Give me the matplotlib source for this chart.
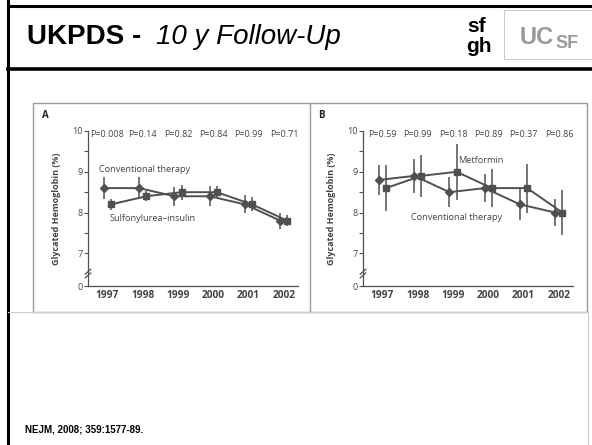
import numpy as np
import matplotlib.pyplot as plt
from matplotlib.lines import Line2D
from matplotlib.patches import Rectangle

# values
years = [1997, 1998, 1999, 2000, 2001, 2002]
a_conv = [8.6, 8.6, 8.4, 8.4, 8.2, 7.8]
a_conv_err = [0.27, 0.27, 0.23, 0.25, 0.22, 0.2]
a_su = [8.2, 8.4, 8.5, 8.5, 8.2, 7.8]
a_su_err = [0.13, 0.12, 0.18, 0.14, 0.17, 0.13]
a_pvals = ["P=0.008", "P=0.14", "P=0.82", "P=0.84", "P=0.99", "P=0.71"]

b_conv = [8.8, 8.9, 8.5, 8.6, 8.2, 8.0]
b_conv_err = [0.36, 0.42, 0.36, 0.34, 0.38, 0.33]
b_met = [8.6, 8.9, 9.0, 8.6, 8.6, 8.0]
b_met_err = [0.56, 0.52, 0.68, 0.47, 0.6, 0.55]
b_pvals = ["P=0.59", "P=0.99", "P=0.18", "P=0.89", "P=0.37", "P=0.86"]

ytick_vals = [7, 8, 9, 10]
zero_pos = 6.2  # where "0" sits on the broken axis

W, H = 592, 445
fig = plt.figure(figsize=(W / 100, H / 100), dpi=100)
fig.patch.set_facecolor('white')

# slide background layer in pixel coords
bg = fig.add_axes([0, 0, 1, 1])
bg.set_xlim(0, W)
bg.set_ylim(H, 0)
bg.axis('off')

def hline(y, x0, x1, lw, c):
    bg.add_line(Line2D([x0, x1], [y, y], lw=lw, color=c))

def vline(x, y0, y1, lw, c):
    bg.add_line(Line2D([x, x], [y0, y1], lw=lw, color=c))

vline(8, 0, H, 2.2, 'black')
hline(6, 8, W, 2.2, 'black')
hline(68.5, 8, W, 2.6, 'black')

bg.text(27, 37, "UKPDS - ", fontsize=20, fontweight='bold', family='Liberation Sans', va='center')
bg.text(156, 37, "10 y Follow-Up", fontsize=20, fontstyle='italic', family='Liberation Sans', va='center')

# logos
bg.text(467, 27, "sf", fontsize=15, fontweight='bold', family='Liberation Sans', va='center')
bg.text(466, 47, "gh", fontsize=15, fontweight='bold', family='Liberation Sans', va='center')
bg.add_patch(Rectangle((504, 10), 90, 49, fill=False, ec='#cccccc', lw=0.8))
bg.text(520, 37, "UC", fontsize=17, fontweight='bold', family='Liberation Sans', color='#999999', va='center')
bg.text(555, 43, "SF", fontsize=13, fontweight='bold', family='Liberation Sans', color='#999999', va='center')

# figure frame
bg.add_patch(Rectangle((33, 103), 554, 209, fill=False, ec='#999999', lw=1.0))
vline(310, 103, 312, 1.0, '#999999')
hline(312, 8, 588, 0.8, '#cccccc')
vline(588, 312, H, 0.8, '#cccccc')

bg.text(25, 430, "NEJM, 2008; 359:1577-89.", fontsize=7, fontweight='bold', family='Liberation Sans', va='center')

line_c = '#505050'
txt_c = '#444444'
cfont = 'Open Sans'

def panel(left, letter, letter_x, conv, conv_err, other, other_err, pvals,
          ylabel_x, labels):
    ax = fig.add_axes([left / W, (H - 286) / H, 210 / W, 155 / H])
    ax.set_xlim(1996.45, 2002.4)
    ax.set_ylim(zero_pos, 10)
    ax.patch.set_alpha(0)
    for s in ['top', 'right']:
        ax.spines[s].set_visible(False)
    for s in ['left', 'bottom']:
        ax.spines[s].set_color(line_c)
        ax.spines[s].set_linewidth(0.9)

    xc = np.array(years) - 0.1
    xo = np.array(years) + 0.1
    ax.errorbar(xc, conv, yerr=conv_err, fmt='-D', color=line_c, ms=4.5,
                lw=1.4, elinewidth=1.1, capsize=0, clip_on=False, zorder=3)
    ax.errorbar(xo, other, yerr=other_err, fmt='-s', color=line_c, ms=4.5,
                lw=1.4, elinewidth=1.1, capsize=0, clip_on=False, zorder=3)

    ax.set_xticks(years)
    ax.set_xticklabels([str(y) for y in years], fontsize=7.3, fontweight='bold',
                       family=cfont, color=txt_c)
    ax.tick_params(axis='x', length=0, pad=3)
    ax.set_yticks([zero_pos] + ytick_vals)
    ax.set_yticklabels(['0'] + [str(v) for v in ytick_vals], fontsize=6.5,
                       family=cfont, color=txt_c)
    ax.set_yticks([7.5, 8.5, 9.5], minor=True)
    ax.tick_params(axis='y', which='both', direction='out', length=3,
                   width=0.8, color=line_c, pad=1)
    ax.set_ylabel("Glycated Hemoglobin (%)", fontsize=6.5, fontweight='bold',
                  family=cfont, color=txt_c)
    ax.yaxis.set_label_coords((ylabel_x + 4 - left) / 210, 0.5)

    for yr, p in zip(years, pvals):
        ax.text(yr, 9.92, p, ha='center', va='center', fontsize=6.5,
                family=cfont, color=txt_c)

    for (tx, ty, s) in labels:
        ax.text(tx, ty, s, ha='left', va='center', fontsize=6.6,
                family=cfont, color=txt_c)

    # axis break marks
    x0 = 1996.45
    for dy in (0.0, 0.09):
        ax.plot([x0 - 0.08, x0 + 0.08], [6.4 + dy, 6.52 + dy], color=line_c,
                lw=0.9, clip_on=False)

    bg.text(letter_x, 115, letter, fontsize=7, fontweight='bold',
            family=cfont, color='#222222', va='center')
    return ax

panel(88, "A", 42, a_conv, a_conv_err, a_su, a_su_err, a_pvals, 57,
      [(1996.77, 9.05, "Conventional therapy"),
       (1997.06, 7.85, "Sulfonylurea\u2013insulin")])
panel(363, "B", 318, b_conv, b_conv_err, b_met, b_met_err, b_pvals, 332,
      [(1999.15, 9.28, "Metformin"),
       (1997.8, 7.87, "Conventional therapy")])

plt.savefig('out.png', dpi=100)
